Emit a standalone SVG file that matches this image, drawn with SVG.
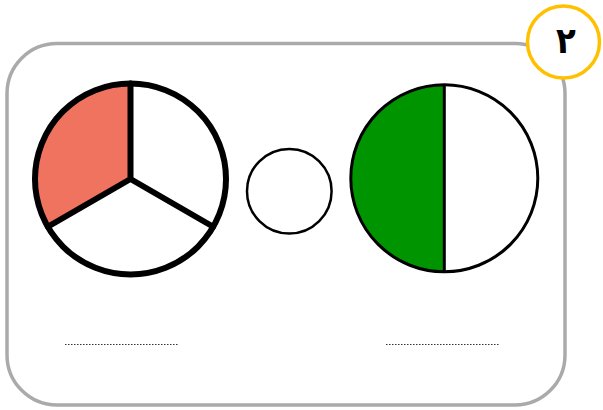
<svg xmlns="http://www.w3.org/2000/svg" width="603" height="410" viewBox="0 0 603 410">
<style>
.frame{fill:#fff;stroke:#aaaaaa;stroke-width:3.5}
.edge{stroke:#000;stroke-linecap:round;fill:none}
.dots{stroke:#333;stroke-width:1.2;stroke-dasharray:1.5 1.5;fill:none}
</style>
<rect width="603" height="410" fill="#fff"/>
<rect class="frame" x="7" y="43.5" width="558" height="361.5" rx="50" ry="50"/>
<g id="pie-thirds">
<circle cx="130.5" cy="179" r="95.5" fill="#fff"/>
<path d="M130.5,179 L130.5,83.5 A95.5,95.5 0 0 0 47.8,226.75 Z" fill="#F0735F"/>
<circle cx="130.5" cy="179" r="95.5" fill="none" stroke="#000" stroke-width="6"/>
<path class="edge" stroke-width="6" d="M130.5,83.5 L130.5,179 M130.5,179 L47.8,226.75 M130.5,179 L213.2,226.75"/>
</g>
<g id="blank-circle">
<circle cx="289.3" cy="191.2" r="42.3" fill="#fff" stroke="#000" stroke-width="2.5"/>
</g>
<g id="pie-halves">
<circle cx="444.3" cy="178.3" r="93.5" fill="#fff"/>
<path d="M444.3,84.8 A93.5,93.5 0 0 0 444.3,271.8 Z" fill="#009400"/>
<circle cx="444.3" cy="178.3" r="93.5" fill="none" stroke="#000" stroke-width="3"/>
<line x1="444.3" y1="84.8" x2="444.3" y2="271.8" stroke="#000" stroke-width="3"/>
</g>
<g id="answer-lines">
<line class="dots" x1="65" y1="344.5" x2="178" y2="344.5"/>
<line class="dots" x1="386" y1="344.5" x2="500" y2="344.5"/>
</g>
<g id="badge">
<circle cx="563.5" cy="42" r="36" fill="#fff" stroke="#FFC000" stroke-width="3.5"/>
<text x="566" y="53" text-anchor="middle" font-family="'DejaVu Sans Condensed', 'DejaVu Sans', sans-serif" font-stretch="condensed" font-weight="bold" font-size="36" fill="#000">٢</text>
</g>
</svg>
